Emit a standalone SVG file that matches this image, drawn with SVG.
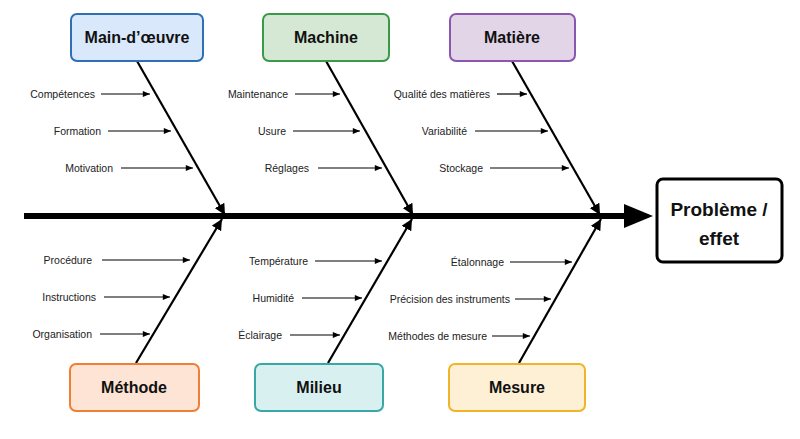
<svg xmlns="http://www.w3.org/2000/svg" width="800" height="439" viewBox="0 0 800 439">
<style>
.lbl{font-family:"Liberation Sans",Arial,sans-serif;font-size:10.5px;fill:#222;text-anchor:end}
.t{font-family:"Liberation Sans",Arial,sans-serif;font-size:16px;font-weight:bold;fill:#111;text-anchor:middle}
.bone{stroke:#000;stroke-width:2.2;fill:none;marker-end:url(#ah)}
.sub{stroke:#000;stroke-width:1.2;fill:none;marker-end:url(#sa)}
.box{stroke-width:2}
</style>
<defs>
<marker id="ah" viewBox="0 0 10 10" refX="10" refY="5" markerWidth="5" markerHeight="5" orient="auto" markerUnits="strokeWidth"><path d="M0,0L10,5L0,10z" fill="#000"/></marker>
<marker id="sa" viewBox="0 0 10 10" refX="10" refY="5" markerWidth="7" markerHeight="6" orient="auto" markerUnits="strokeWidth"><path d="M0,1L10,5L0,9z" fill="#000"/></marker>
</defs>
<rect width="800" height="439" fill="#fff"/>
<g id="connectors">
<line x1="24" y1="216" x2="626" y2="216" stroke="#000" stroke-width="6"/>
<polygon points="624,204 653,216 624,228" fill="#000"/>
<line class="bone" x1="137" y1="61" x2="225" y2="215"/>
<line class="bone" x1="326" y1="61" x2="413" y2="215"/>
<line class="bone" x1="512" y1="61" x2="600" y2="215"/>
<line class="bone" x1="136" y1="363" x2="222" y2="219"/>
<line class="bone" x1="328" y1="363" x2="412" y2="219"/>
<line class="bone" x1="519" y1="363" x2="601" y2="219"/>
<line class="sub" x1="101" y1="94" x2="150" y2="94"/>
<line class="sub" x1="108" y1="131" x2="171" y2="131"/>
<line class="sub" x1="121" y1="168" x2="193" y2="168"/>
<line class="sub" x1="295" y1="94" x2="340" y2="94"/>
<line class="sub" x1="293" y1="131" x2="360" y2="131"/>
<line class="sub" x1="318" y1="168" x2="382" y2="168"/>
<line class="sub" x1="497" y1="94" x2="527" y2="94"/>
<line class="sub" x1="475" y1="131" x2="548" y2="131"/>
<line class="sub" x1="490" y1="168" x2="569" y2="168"/>
<line class="sub" x1="102" y1="260" x2="190" y2="260"/>
<line class="sub" x1="104" y1="297" x2="170" y2="297"/>
<line class="sub" x1="100" y1="334" x2="150" y2="334"/>
<line class="sub" x1="315" y1="261" x2="382" y2="261"/>
<line class="sub" x1="302" y1="298" x2="362" y2="298"/>
<line class="sub" x1="290" y1="335" x2="340" y2="335"/>
<line class="sub" x1="510" y1="262" x2="572" y2="262"/>
<line class="sub" x1="515" y1="299" x2="551" y2="299"/>
<line class="sub" x1="492" y1="336" x2="530" y2="336"/>
</g>
<g id="labels">
<text class="lbl" x="95" y="98">Compétences</text>
<text class="lbl" x="101" y="135">Formation</text>
<text class="lbl" x="113" y="172">Motivation</text>
<text class="lbl" x="288" y="98">Maintenance</text>
<text class="lbl" x="286" y="135">Usure</text>
<text class="lbl" x="309" y="172">Réglages</text>
<text class="lbl" x="490" y="98">Qualité des matières</text>
<text class="lbl" x="467" y="135">Variabilité</text>
<text class="lbl" x="483" y="172">Stockage</text>
<text class="lbl" x="92" y="264">Procédure</text>
<text class="lbl" x="96" y="301">Instructions</text>
<text class="lbl" x="92" y="338">Organisation</text>
<text class="lbl" x="308" y="265">Température</text>
<text class="lbl" x="294" y="302">Humidité</text>
<text class="lbl" x="282" y="339">Éclairage</text>
<text class="lbl" x="504" y="266">Étalonnage</text>
<text class="lbl" x="510" y="303">Précision des instruments</text>
<text class="lbl" x="487" y="340">Méthodes de mesure</text>
</g>
<g id="n-maindoeuvre"><rect class="box" x="71" y="14" width="132" height="47" rx="6" fill="#dae8fc" stroke="#2f6fb5"/><text class="t" x="137" y="43">Main-d’œuvre</text></g>
<g id="n-machine"><rect class="box" x="263" y="14" width="126" height="47" rx="6" fill="#d5e8d4" stroke="#3a9a4a"/><text class="t" x="326" y="43">Machine</text></g>
<g id="n-matiere"><rect class="box" x="450" y="14" width="125" height="47" rx="6" fill="#e1d5e7" stroke="#8a56b0"/><text class="t" x="512" y="43">Matière</text></g>
<g id="n-methode"><rect class="box" x="70" y="364" width="129" height="47" rx="6" fill="#fde4d4" stroke="#ef7f33"/><text class="t" x="134" y="393">Méthode</text></g>
<g id="n-milieu"><rect class="box" x="255" y="364" width="128" height="47" rx="6" fill="#d8f0f0" stroke="#3aa7a7"/><text class="t" x="319" y="393">Milieu</text></g>
<g id="n-mesure"><rect class="box" x="449" y="364" width="136" height="47" rx="6" fill="#fdf0d5" stroke="#f0b429"/><text class="t" x="517" y="393">Mesure</text></g>
<g id="n-effet"><rect x="657" y="179" width="125" height="83" rx="6" fill="#fff" stroke="#000" stroke-width="3"/><text class="t" x="719" y="216" style="font-size:19px">Problème /</text><text class="t" x="719" y="245" style="font-size:19px">effet</text></g>
</svg>
